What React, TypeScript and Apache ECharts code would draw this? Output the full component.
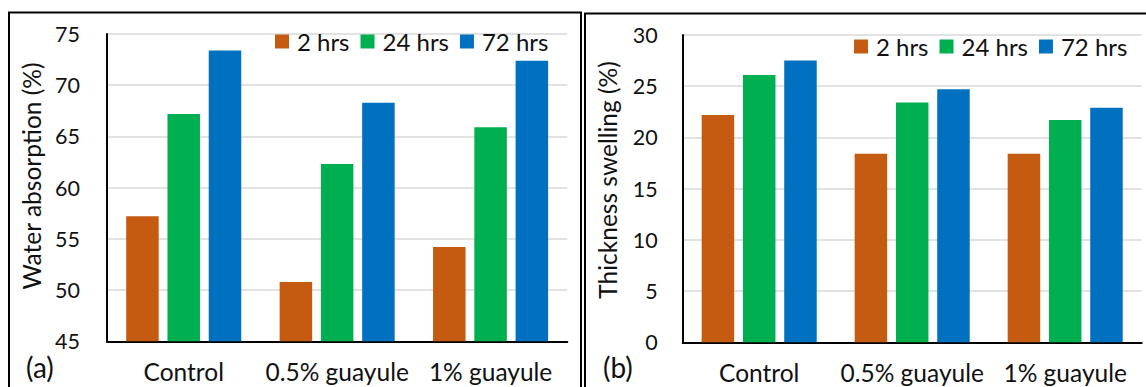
import React, { useEffect, useRef } from "react";
import * as echarts from "echarts";

const categories = ["Control", "0.5% guayule", "1% guayule"];
const seriesNames = ["2 hrs", "24 hrs", "72 hrs"];
const colors = ["#C55A11", "#00B050", "#0070C0"];

const absorption2h = [57.2, 50.8, 54.2];
const absorption24h = [67.2, 62.3, 65.9];
const absorption72h = [73.4, 68.3, 72.4];

const swelling2h = [22.2, 18.4, 18.4];
const swelling24h = [26.1, 23.4, 21.7];
const swelling72h = [27.5, 24.7, 22.9];

const absorptionAxis = { min: 45, max: 75, interval: 5 };
const swellingAxis = { min: 0, max: 30, interval: 5 };

const FONT = "Lato";
const TEXT = "#111111";

export default function App() {
  const ref = useRef<HTMLDivElement>(null);

  useEffect(() => {
    if (!ref.current) return;
    const chart = echarts.init(ref.current, undefined, { renderer: "svg" });

    const absorption = [absorption2h, absorption24h, absorption72h];
    const swelling = [swelling2h, swelling24h, swelling72h];

    const makeX = (gridIndex: number) => ({
      type: "category",
      gridIndex,
      data: categories,
      axisTick: { show: false },
      axisLine: { show: true, lineStyle: { color: "#000", width: 2 } },
      axisLabel: {
        color: TEXT,
        fontSize: 24.5,
        lineHeight: 24.5,
        fontFamily: FONT,
        margin: 18,
        interval: 0,
        hideOverlap: false,
      },
      splitLine: { show: false },
    });

    const makeY = (gridIndex: number, ax: { min: number; max: number; interval: number }, margin: number) => ({
      type: "value",
      gridIndex,
      min: ax.min,
      max: ax.max,
      interval: ax.interval,
      axisTick: { show: false },
      axisLine: { show: true, lineStyle: { color: "#000", width: 2 } },
      axisLabel: { color: TEXT, fontSize: 21.5, fontFamily: FONT, margin },
      splitLine: { show: true, lineStyle: { color: "#d9d9d9", width: 1.5 } },
    });

    const makeSeries = (data: number[][], idx: number) =>
      data.map((vals, i) => ({
        type: "bar",
        name: seriesNames[i],
        xAxisIndex: idx,
        yAxisIndex: idx,
        data: vals,
        barWidth: 32.5,
        barGap: "27%",
        itemStyle: { color: colors[i] },
      }));

    const legendBase = {
      data: seriesNames,
      icon: "rect",
      itemWidth: 14,
      itemHeight: 14,
      itemGap: 11,
      orient: "horizontal",
      textStyle: { color: TEXT, fontSize: 24, fontFamily: FONT, padding: [0, 0, 0, 3], lineHeight: 22 },
    };

    chart.setOption({
      animation: false,
      color: colors,
      grid: [
        { left: 107, right: 1146 - 567.3, top: 34, bottom: 387 - 341.3 },
        { left: 682.7, right: 1146 - 1141.7, top: 35, bottom: 387 - 342.3 },
      ],
      xAxis: [makeX(0), makeX(1)],
      yAxis: [makeY(0, absorptionAxis, 27), makeY(1, swellingAxis, 25)],
      legend: [
        { ...legendBase, left: 270, top: 24.5 },
        { ...legendBase, left: 849, top: 29.5 },
      ],
      series: [...makeSeries(absorption, 0), ...makeSeries(swelling, 1)],
      graphic: [
        {
          type: "rect",
          shape: { x: 9, y: 12.5, width: 572, height: 420 },
          style: { fill: "none", stroke: "#000", lineWidth: 2 },
          silent: true,
        },
        {
          type: "rect",
          shape: { x: 585, y: 13.5, width: 620, height: 420 },
          style: { fill: "none", stroke: "#000", lineWidth: 2 },
          silent: true,
        },
        {
          type: "text",
          x: 31,
          y: 176,
          rotation: Math.PI / 2,
          style: {
            text: "Water absorption (%)",
            fontSize: 24.5,
            fontFamily: FONT,
            fill: TEXT,
            textAlign: "center",
            textVerticalAlign: "middle",
          },
        },
        {
          type: "text",
          x: 607.5,
          y: 180,
          rotation: Math.PI / 2,
          style: {
            text: "Thickness swelling (%)",
            fontSize: 24.5,
            fontFamily: FONT,
            fill: TEXT,
            textAlign: "center",
            textVerticalAlign: "middle",
          },
        },
        {
          type: "text",
          x: 26,
          y: 367,
          style: {
            text: "(a)",
            fontSize: 28,
            fontFamily: FONT,
            fill: TEXT,
            textAlign: "left",
            textVerticalAlign: "middle",
          },
        },
        {
          type: "text",
          x: 603,
          y: 367,
          style: {
            text: "(b)",
            fontSize: 28,
            fontFamily: FONT,
            fill: TEXT,
            textAlign: "left",
            textVerticalAlign: "middle",
          },
        },
      ],
    });

    return () => chart.dispose();
  }, []);

  return (
    <div
      ref={ref}
      style={{ position: "fixed", left: 0, top: 0, width: 1146, height: 387, background: "#fff" }}
    />
  );
}
